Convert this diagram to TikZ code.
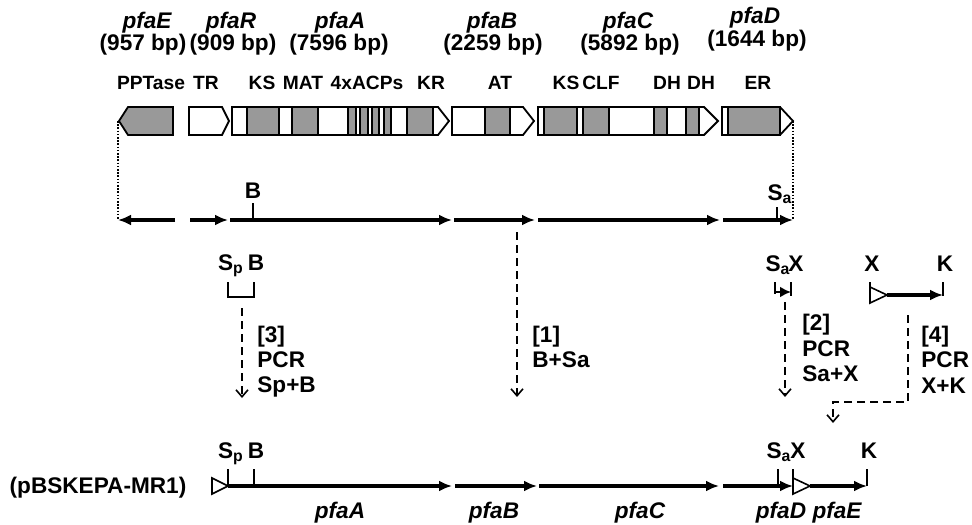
\documentclass[tikz,border=0pt]{standalone}
\usepackage{fontspec}
\setmainfont{Liberation Sans}
\usetikzlibrary{arrows.meta}
\definecolor{domgray}{RGB}{153,153,153}

\begin{document}
\begin{tikzpicture}[x=0.5pt,y=-0.5pt,>={Latex[length=6.5pt,width=5.5pt]},
  every node/.style={font=\fontsize{11.3}{12.5}\selectfont\bfseries,inner sep=0pt},
  dom/.style={font=\fontsize{9.6}{11}\selectfont\bfseries},
  gene/.style={font=\fontsize{11.3}{12.5}\selectfont\bfseries\itshape},
  box/.style={draw,line width=0.9pt,line join=miter},
  seg/.style={draw,fill=domgray,line width=0.9pt},
  map/.style={->,line width=1.8pt},
  tick/.style={line width=0.8pt},
  opentri/.style={draw,line width=0.8pt,fill=white},
  pcr/.style={->,>={Straight Barb[length=3.5pt,width=6pt]},line width=0.8pt,dash pattern=on 4pt off 2.5pt},
  guide/.style={line width=1pt,dash pattern=on 0.8pt off 0.8pt}]
\useasboundingbox (0,0) rectangle (972,524);

\node[gene] (nE) at (147,23) {pfaE};
\node (bE) at (143,45) {(957 bp)};
\node[gene] (nR) at (231,23) {pfaR};
\node (bR) at (233,45) {(909 bp)};
\node[gene] (nA) at (340,23) {pfaA};
\node (bA) at (339,45) {(7596 bp)};
\node[gene] (nB) at (492,23) {pfaB};
\node (bB) at (493,45) {(2259 bp)};
\node[gene] (nC) at (628,23) {pfaC};
\node (bC) at (630,45) {(5892 bp)};
\node[gene] (nD) at (755,18) {pfaD};
\node (bD) at (757,41) {(1644 bp)};

\foreach \x/\t [count=\i] in {151/PPTase,206/TR,262/KS,303/MAT,367/4xACPs,431/KR,500/AT,566/KS,601/CLF,667/DH,701/DH,758/ER}
  \node[dom] (d\i) at (\x,83) {\t};

\filldraw[box,fill=domgray] (119,121) -- (128,107) -- (173,107) -- (173,135) -- (128,135) -- cycle;
\foreach \s/\e/\t in {189/222/229,232/438/449,452/523/534,538/704/718,722/780/793}
  \filldraw[box,fill=white] (\s,107) -- (\e,107) -- (\t,121) -- (\e,135) -- (\s,135) -- cycle;
\foreach \a/\b in {247/279,292/318,348/356,360/368,372/379,384/391,407/433,485/510,544/577,583/609,654/667,686/699,728/780}
  \draw[seg] (\a,107) rectangle (\b,135);
\coordinate (eTip) at (118,121);
\coordinate (dTip) at (793,121);

\foreach \i/\s/\e in {1/175/118,2/190/228,3/230/452,4/454/535,5/538/720,6/723/793} {
  \coordinate (m\i s) at (\s,220);
  \coordinate (m\i e) at (\e,220);
  \draw[map] (m\i s) -- (m\i e);
}
\draw[guide] (eTip) -- (m1e);
\draw[guide] (dTip) -- (m6e);
\coordinate (mB) at (253,220);
\coordinate (mSa) at (777,220);
\draw[tick] (mB) -- ++(0,-17);
\draw[tick] (mSa) -- ++(0,-13);
\node[anchor=base] (lB) at (253,198) {B};
\node[anchor=base] (lSa) at (780,200) {S\textsubscript{a}};

% PCR fragments
\node[anchor=base] (fSp) at (231,270) {S\textsubscript{p}};
\node[anchor=base] (fB) at (256,270) {B};
\draw[tick] (228,282) -- (228,297) -- (254,297) -- (254,282);
\node[anchor=base] (fSa) at (778,271) {S\textsubscript{a}};
\node[anchor=base] (fX) at (796,271) {X};
\coordinate (f2s) at (775,292);
\coordinate (f2e) at (791,292);
\draw[tick] (775,282) -- (775,294);
\draw[tick] (791,282) -- (791,296);
\draw[->,>={Latex[length=5.5pt,width=5.5pt]},line width=1.3pt] (f2s) -- (f2e);
\node[anchor=base] (gX) at (872,271) {X};
\node[anchor=base] (gK) at (945,271) {K};
\coordinate (g1) at (887,295);
\coordinate (g2) at (943,295);
\draw[tick] (870,282) -- (870,303);
\draw[tick] (943,282) -- (943,296);
\draw[opentri] (870,287) -- (887,295) -- (870,303) -- cycle;
\draw[map] (g1) -- (g2);

\coordinate (a3s) at (242,308); \coordinate (a3e) at (242,398);
\coordinate (a1s) at (517,232); \coordinate (a1e) at (517,397);
\coordinate (a2s) at (785,302); \coordinate (a2e) at (785,397);
\coordinate (a4s) at (908,315); \coordinate (a4e) at (833,423);
\draw[pcr] (a3s) -- (a3e);
\draw[pcr] (a1s) -- (a1e);
\draw[pcr] (a2s) -- (a2e);
\draw[pcr] (a4s) |- (833,402) -- (a4e);

\node[anchor=base west] (s3a) at (257,342) {[3]};
\node[anchor=base west] (s3b) at (257,367) {PCR};
\node[anchor=base west] (s3c) at (257,392) {Sp+B};
\node[anchor=base west] (s1a) at (532,342) {[1]};
\node[anchor=base west] (s1b) at (532,367) {B+Sa};
\node[anchor=base west] (s2a) at (802,330) {[2]};
\node[anchor=base west] (s2b) at (802,356) {PCR};
\node[anchor=base west] (s2c) at (802,381) {Sa+X};
\node[anchor=base west] (s4a) at (921,342) {[4]};
\node[anchor=base west] (s4b) at (921,367) {PCR};
\node[anchor=base west] (s4c) at (921,393) {X+K};

% construct
\node (plas) at (98,488) {(pBSKEPA-MR1)};
\foreach \i/\s/\e in {1/228/452,2/455/537,3/539/719,4/723/793,5/810/867} {
  \coordinate (c\i s) at (\s,486);
  \coordinate (c\i e) at (\e,486);
  \draw[map] (c\i s) -- (c\i e);
}
\foreach \x in {228,254,778,793,867}
  \draw[tick] (\x,486) -- (\x,469);
\draw[opentri] (212,478) -- (228,486) -- (212,494) -- cycle;
\draw[opentri] (793,478) -- (810,486) -- (793,494) -- cycle;
\node[anchor=base] (cSp) at (231,458) {S\textsubscript{p}};
\node[anchor=base] (cB) at (256,458) {B};
\node[anchor=base] (cSa) at (779,458) {S\textsubscript{a}};
\node[anchor=base] (cX) at (798,458) {X};
\node[anchor=base] (cK) at (869,458) {K};
\foreach \x/\t in {340/pfaA,494/pfaB,640/pfaC,781/pfaD,837/pfaE}
  \node[gene] (c\t) at (\x,513) {\t};
\end{tikzpicture}
\end{document}
